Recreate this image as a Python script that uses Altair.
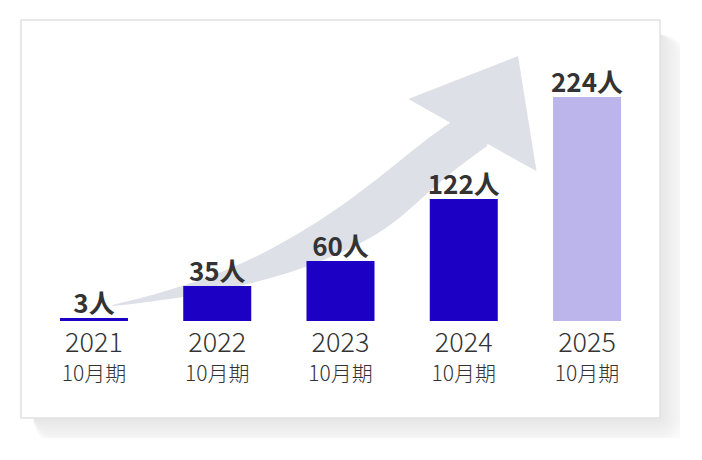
import altair as alt
import pandas as pd

# ---- data ----
years = [2021, 2022, 2023, 2024, 2025]
values = [3, 35, 60, 122, 224]
value_labels = ["3人", "35人", "60人", "122人", "224人"]
year_labels = ["2021", "2022", "2023", "2024", "2025"]
period_labels = ["10月期", "10月期", "10月期", "10月期", "10月期"]
is_forecast = [False, False, False, False, True]

# decorative arrow, in (year, people) units
arrow_x = [2021.15, 2021.45, 2021.78, 2022.06, 2022.35, 2022.63, 2022.89,
           2023.16, 2023.43, 2023.65, 2023.90, 2024.19]
arrow_upper = [16, 25, 37, 50, 66, 85, 105, 129, 155, 177, 200, 221]
arrow_lower = [15, 19, 25, 31, 40, 50, 62, 77, 97, 122, 149, 175]
head_x = [2023.55, 2024.44, 2024.59]
head_upper = [222, 265, 150]
head_lower = [222, 160, 150]

W, H = 639, 398
FONT = "Noto Sans CJK JP"

df = pd.DataFrame({
    "year": years, "value": values, "label": value_labels,
    "ylab": year_labels, "plab": period_labels, "forecast": is_forecast,
})
arrow_df = pd.DataFrame({"x": arrow_x, "hi": arrow_upper, "lo": arrow_lower})
head_df = pd.DataFrame({"x": head_x, "hi": head_upper, "lo": head_lower})
one = pd.DataFrame({"a": [0]})

xscale = alt.Scale(domain=[2020.408, 2025.592], padding=0, nice=False, zero=False)
yscale = alt.Scale(domain=[-97, 301], padding=0, nice=False)

# shadow + card
layers = []
for i in range(12):
    e = i * 2.6
    layers.append(
        alt.Chart(one).mark_rect(fill="black", opacity=0.006, cornerRadius=4 + e)
        .encode(x=alt.value(12), x2=alt.value(W + 2 + e),
                y=alt.value(14), y2=alt.value(H + 3 + e))
    )
card = alt.Chart(one).mark_rect(fill="white", stroke="#e2e2e2", strokeWidth=1.5).encode(
    x=alt.value(0), x2=alt.value(W), y=alt.value(0), y2=alt.value(H))
layers.append(card)

shaft = alt.Chart(arrow_df).mark_area(color="#dde0e6", interpolate="basis").encode(
    x=alt.X("x:Q", scale=xscale, axis=None),
    y=alt.Y("hi:Q", scale=yscale, axis=None),
    y2="lo:Q",
)
head = alt.Chart(head_df).mark_area(color="#dde0e6", interpolate="linear").encode(
    x=alt.X("x:Q", scale=xscale, axis=None),
    y=alt.Y("hi:Q", scale=yscale, axis=None),
    y2="lo:Q",
)

base = alt.Chart(df)
bars = base.mark_bar(size=68).encode(
    x=alt.X("year:Q", scale=xscale, axis=None),
    y=alt.Y("value:Q", scale=yscale, axis=None),
    y2=alt.datum(0),
    color=alt.Color("forecast:N", scale=alt.Scale(domain=[False, True],
                    range=["#1c00c4", "#bcb5ec"]), legend=None),
)
vlabels = base.mark_text(font=FONT, fontSize=26, fontWeight="bold", color="#333333",
                         baseline="alphabetic", dy=-5).encode(
    x=alt.X("year:Q", scale=xscale, axis=None),
    y=alt.Y("value:Q", scale=yscale, axis=None),
    text="label:N",
)
ylabels = base.mark_text(font=FONT, fontSize=27, fontWeight=300, color="#333333",
                         baseline="middle").encode(
    x=alt.X("year:Q", scale=xscale, axis=None),
    y=alt.value(324),
    text="ylab:N",
)
plabels = base.mark_text(font=FONT, fontSize=21, fontWeight=300, color="#333333",
                         baseline="middle").encode(
    x=alt.X("year:Q", scale=xscale, axis=None),
    y=alt.value(355),
    text="plab:N",
)

chart = alt.layer(*layers, shaft, head, bars, vlabels, ylabels, plabels).properties(
    width=W, height=H,
    padding={"left": 13, "top": 12, "right": 20, "bottom": 20},
    autosize=alt.AutoSizeParams(type="none"),
    background="white",
).configure_view(stroke=None)

chart.save("out.html", embed_options={"renderer": "svg", "actions": False})
